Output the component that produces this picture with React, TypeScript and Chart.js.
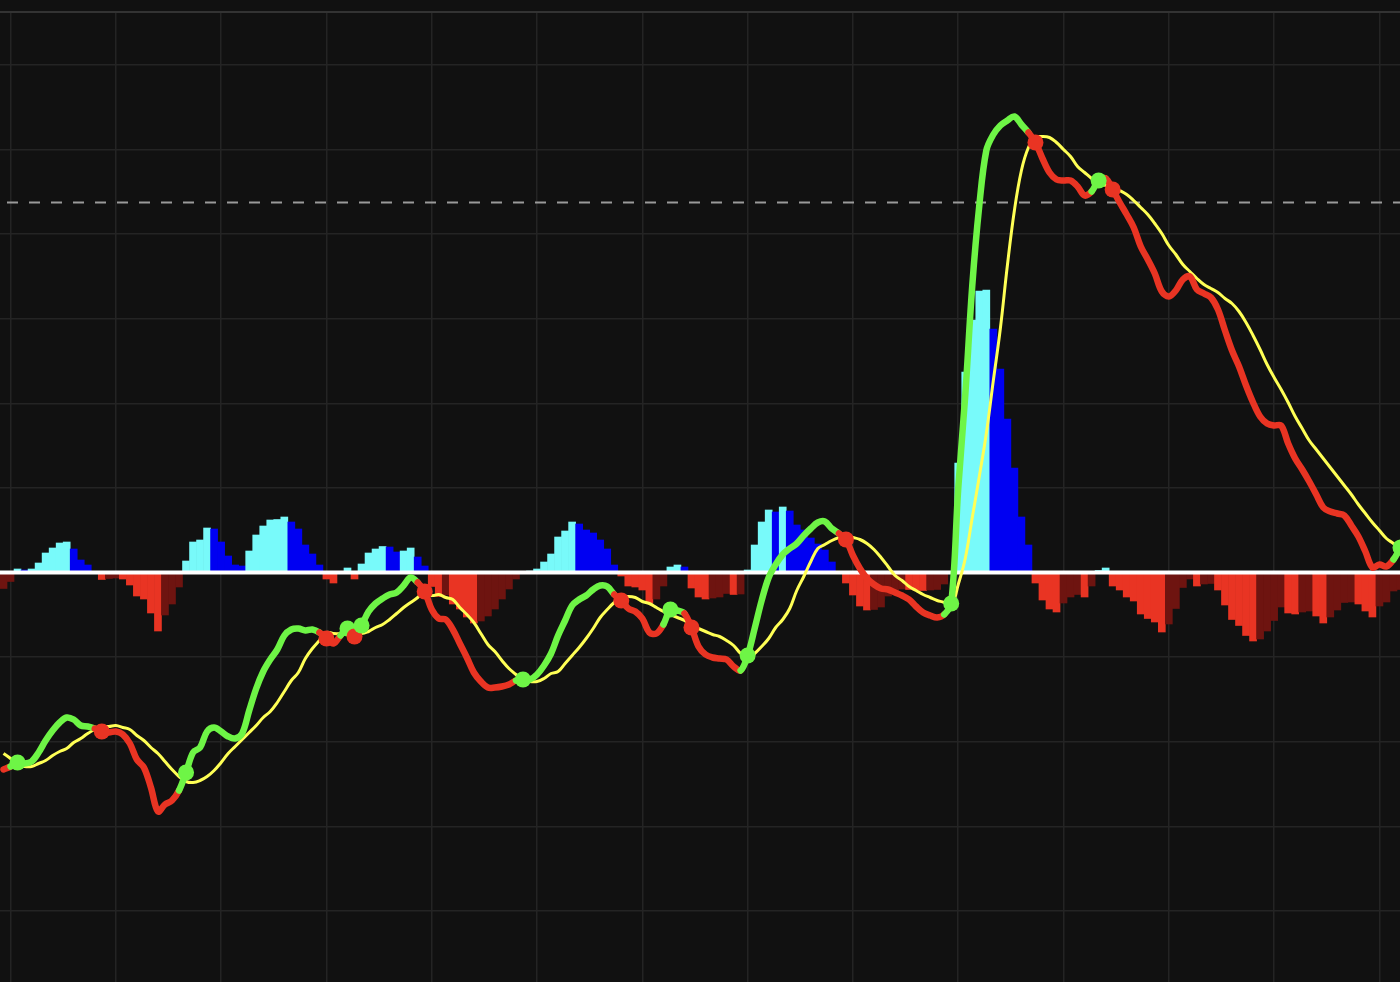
import { useEffect, useRef } from "react";
import { Chart, registerables } from "chart.js";

Chart.register(...registerables);

// histogram (macd - signal), one value per bar
const HIST = [
  -16, -9, 3.5, 2.5, 3.5, 9.5, 19.5, 24.5, 29.5, 30.5,
  23.5, 12.5, 7.5, 0.5, -7, -6, -5.5, -6.5, -12.5, -23.5,
  -26.5, -40.5, -58.5, -42.5, -31.5, -14.5, 11.5, 30.5, 32.5, 44.5,
  43.5, 30.5, 16.5, 7.5, 6.5, 21.5, 37.5, 46.5, 52.5, 53,
  55.5, 50.5, 43.5, 27.5, 18.5, 7.5, -6.5, -10.5, -1, 4.5,
  -6.5, 8.5, 19.5, 23.5, 26, 25.5, 20.5, 21.5, 24.5, 15.5,
  6.5, -14, -24, -22.5, -31.5, -36.5, -44.5, -50.5, -48.5, -43.5,
  -36.5, -26.5, -16.5, -6.5, 0.5, 1.5, 3.5, 10.5, 18.5, 35.5,
  41.5, 50.5, 48.5, 42.5, 39.5, 32.5, 23.5, 7.5, -3.5, -13.5,
  -14.5, -17.5, -30.5, -26.5, -13.5, 5.5, 7.5, 5.5, -15.5, -24.5,
  -26.5, -25.5, -24.5, -21, -22, -21.5, 2.5, 27.5, 50.5, 62.5,
  60.5, 65.5, 61.5, 47.5, 42.5, 34.5, 28.5, 22.5, 10.5, 0.5,
  -10.5, -22.5, -33.5, -37.5, -37, -34.5, -23.5, -18, -16.5, -17,
  -17.5, -18, -17.5, -17, -11.5, 1, 109.5, 200.5, 252.5, 281.5,
  282.5, 243.5, 203.5, 153.5, 104.5, 55.5, 27.5, -10.5, -27.5, -36.5,
  -39.5, -30.5, -24.5, -22, -24.5, -13.5, 2, 4.5, -13.5, -17.5,
  -24.5, -28.5, -41.5, -46, -49.5, -59.5, -51.5, -36, -15, -6.5,
  -13.5, -11.5, -11, -17.5, -32.5, -47, -53, -63, -68.5, -66.5,
  -58.5, -48, -34.5, -40.5, -41.5, -39.5, -38.5, -43.5, -50.5, -44.5,
  -37.5, -30, -29.5, -31.5, -38.5, -44.5, -33.5, -29.5, -18.5, -17,
];

const MACD = [
  -197, -194, -190, -191, -189, -180, -168, -158, -150, -145,
  -147, -153, -154, -156, -159, -160, -159, -162, -171, -187,
  -195, -215, -239, -232, -228, -218, -200, -180, -175, -159,
  -155, -159, -164, -166, -161, -138, -116, -99, -87, -77,
  -63, -57, -56, -58, -57, -60, -66, -71, -63, -56,
  -64, -53, -39, -31, -26, -22, -20, -13, -5, -10,
  -19, -37, -46, -47, -57, -71, -85, -100, -109, -115,
  -115, -114, -112, -108, -107, -107, -102, -93, -81, -63,
  -48, -33, -27, -23, -17, -13, -14, -22, -28, -36,
  -39, -46, -60, -61, -52, -37, -38, -41, -55, -74,
  -82, -85, -86, -87, -94, -98, -83, -56, -28, -5,
  8, 18, 24, 29, 37, 44, 50, 51, 44, 39,
  33, 17, 4, -6, -12, -16, -17, -20, -23, -27,
  -34, -40, -43, -45, -42, -31, 84, 177, 287, 367,
  422, 438, 447, 452, 456, 448, 440, 430, 414, 400,
  393, 392, 392, 386, 377, 381, 392, 394, 383, 370,
  358, 345, 326, 313, 299, 281, 276, 282, 293, 296,
  283, 279, 275, 263, 242, 222, 206, 187, 170, 156,
  149, 147, 147, 129, 114, 103, 91, 78, 65, 61,
  59, 57, 47, 36, 21, 5, 8, 6, 13, 25,
];

const SIGNAL = [
  -181, -186, -193, -194, -194, -191, -188, -183, -179, -176,
  -170, -166, -161, -157, -154, -154, -153, -155, -157, -163,
  -168, -175, -181, -189, -197, -204, -209, -210, -208, -204,
  -198, -190, -181, -174, -167, -160, -153, -145, -139, -130,
  -119, -108, -100, -86, -76, -68, -60, -61, -61, -60,
  -59, -61, -59, -55, -52, -47, -41, -35, -30, -25,
  -18, -23, -22, -25, -27, -35, -42, -50, -61, -72,
  -79, -88, -96, -102, -108, -109, -109, -106, -101, -99,
  -91, -83, -75, -66, -56, -45, -37, -30, -25, -24,
  -25, -29, -31, -35, -39, -42, -45, -48, -53, -56,
  -59, -62, -64, -68, -73, -81, -86, -81, -74, -66,
  -55, -47, -36, -18, -4, 11, 24, 28, 32, 35,
  37, 35, 33, 29, 23, 15, 6, -3, -8, -14,
  -18, -22, -25, -28, -30, -34, -12, 14, 55, 96,
  139, 192, 244, 307, 362, 402, 425, 435, 436, 435,
  430, 423, 416, 406, 400, 394, 389, 387, 385, 382,
  378, 372, 365, 358, 349, 339, 327, 318, 308, 301,
  294, 288, 284, 280, 274, 269, 261, 250, 237, 223,
  208, 195, 183, 170, 156, 144, 132, 123, 114, 105,
  96, 87, 78, 68, 59, 50, 42, 34, 29, 23,
];

const ZERO_LEVEL = 0;
const UPPER_LEVEL = 370;

// grid positions (no labels on this chart)
const X_GRID = [1, 16, 31, 46, 61, 76, 91, 106, 121, 136, 151, 166, 181, 196];
const Y_GRID = [-338.4, -253.8, -169.2, -84.6, 0, 84.6, 169.2, 253.8, 338.4, 423, 507.6];

const BG = "#111111";
const GRID = "#242424";
const GREEN = "#6ef546";
const RED = "#e93423";
const YELLOW = "#ffff55";
const CYAN = "#78fafa";
const BLUE = "#0000f2";
const DARK_RED = "#6e1410";

const above = (i: number) => MACD[i] >= SIGNAL[i];
const isCross = (i: number) => i > 0 && above(i) !== above(i - 1);

function histColor(i: number) {
  const v = HIST[i];
  const prev = i > 0 ? HIST[i - 1] : v;
  if (v >= 0) return v >= prev ? CYAN : BLUE;
  return v < prev ? RED : DARK_RED;
}

export default function App() {
  const canvasRef = useRef<HTMLCanvasElement | null>(null);
  const chartRef = useRef<Chart | null>(null);

  useEffect(() => {
    if (!canvasRef.current) return;
    chartRef.current?.destroy();

    const xs = HIST.map((_, i) => i);
    const ends = [-1, xs.length];

    chartRef.current = new Chart(canvasRef.current, {
      type: "bar",
      data: {
        datasets: [
          {
            type: "line",
            data: xs.map((i) => ({ x: i, y: MACD[i] })),
            borderWidth: 6.5,
            borderColor: GREEN,
            borderCapStyle: "round",
            borderJoinStyle: "round",
            tension: 0.35,
            segment: {
              borderColor: (ctx: any) => (above(ctx.p1DataIndex) ? GREEN : RED),
            },
            pointRadius: (ctx: any) => (isCross(ctx.dataIndex) ? 8 : 0),
            pointBackgroundColor: (ctx: any) => (above(ctx.dataIndex) ? GREEN : RED),
            pointBorderWidth: 0,
            pointHoverRadius: 0,
            order: 1,
          },
          {
            type: "line",
            data: xs.map((i) => ({ x: i, y: SIGNAL[i] })),
            borderColor: YELLOW,
            borderWidth: 3,
            tension: 0.4,
            pointRadius: 0,
            order: 2,
          },
          {
            type: "line",
            data: ends.map((x) => ({ x, y: ZERO_LEVEL })),
            borderColor: "#ffffff",
            borderWidth: 4,
            pointRadius: 0,
            order: 3,
          },
          {
            type: "line",
            data: [-0.5, xs.length].map((x) => ({ x, y: UPPER_LEVEL })),
            borderColor: "#9a9a9a",
            borderWidth: 2,
            borderDash: [11, 11],
            borderDashOffset: 15,
            pointRadius: 0,
            order: 3,
          },
          {
            type: "bar",
            data: xs.map((i) => ({ x: i, y: HIST[i] })),
            backgroundColor: xs.map(histColor),
            borderWidth: 0,
            barPercentage: 1,
            categoryPercentage: 1,
            order: 4,
          },
        ],
      },
      options: {
        responsive: false,
        animation: false,
        events: [],
        layout: { padding: { top: 12, left: 0, right: 0, bottom: 0 }, autoPadding: false },
        plugins: {
          legend: { display: false },
          tooltip: { enabled: false },
        },
        scales: {
          x: {
            type: "linear",
            position: "top",
            min: -0.5,
            max: 198.93,
            offset: false,
            afterBuildTicks: (s: any) => {
              s.ticks = X_GRID.map((value) => ({ value }));
            },
            grid: { color: GRID, lineWidth: 1.5, drawTicks: false, offset: false },
            ticks: { display: false },
            border: { display: true, color: "#333333", width: 2 },
          },
          y: {
            type: "linear",
            min: -409.5,
            max: 560.5,
            afterBuildTicks: (s: any) => {
              s.ticks = Y_GRID.map((value) => ({ value }));
            },
            grid: { color: GRID, lineWidth: 1.5, drawTicks: false },
            ticks: { display: false },
            border: { display: false },
          },
        },
      },
    } as any);

    return () => chartRef.current?.destroy();
  }, []);

  return (
    <div
      style={{
        position: "fixed",
        left: 0,
        top: 0,
        width: 1400,
        height: 982,
        background: BG,
      }}
    >
      <canvas ref={canvasRef} width={1400} height={982} />
    </div>
  );
}
